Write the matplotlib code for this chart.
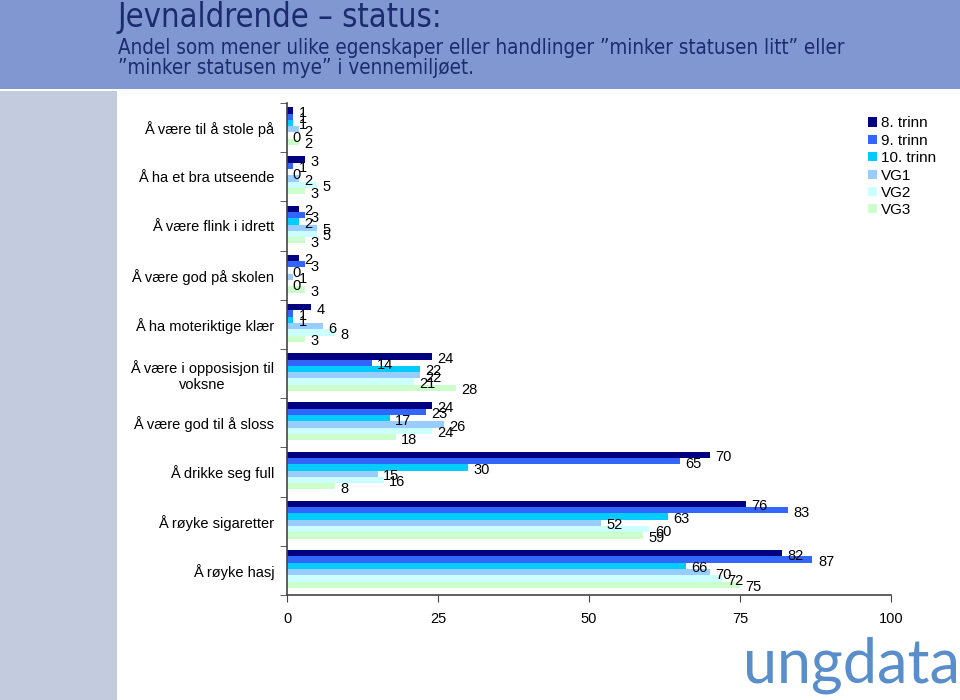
import matplotlib
matplotlib.use("Agg")
import matplotlib.pyplot as plt
from matplotlib.patches import Rectangle

# data
categories = ["Å være til å stole på", "Å ha et bra utseende", "Å være flink i idrett",
              "Å være god på skolen", "Å ha moteriktige klær",
              "Å være i opposisjon til\nvoksne", "Å være god til å sloss",
              "Å drikke seg full", "Å røyke sigaretter", "Å røyke hasj"]
series = ["8. trinn", "9. trinn", "10. trinn", "VG1", "VG2", "VG3"]
trinn8 = [1, 3, 2, 2, 4, 24, 24, 70, 76, 82]
trinn9 = [1, 1, 3, 3, 1, 14, 23, 65, 83, 87]
trinn10 = [1, 0, 2, 0, 1, 22, 17, 30, 63, 66]
vg1 = [2, 2, 5, 1, 6, 22, 26, 15, 52, 70]
vg2 = [0, 5, 5, 0, 8, 21, 24, 16, 60, 72]
vg3 = [2, 3, 3, 3, 3, 28, 18, 8, 59, 75]
xticks = [0, 25, 50, 75, 100]

values = [trinn8, trinn9, trinn10, vg1, vg2, vg3]
colors = ["#000080", "#3366FF", "#00CCFF", "#99CCFF", "#CCFFFF", "#CCFFCC"]

plt.rcParams['font.family'] = ['Liberation Sans', 'DejaVu Sans']

fig = plt.figure(figsize=(9.6, 7), dpi=100)
fig.patch.set_facecolor("white")

# header band and left strip
fig.add_artist(Rectangle((0, 1 - 89 / 700), 1, 89 / 700, transform=fig.transFigure,
                         facecolor="#8097D2", edgecolor="none", zorder=0))
fig.add_artist(Rectangle((0, 0), 117 / 960, 1 - 91 / 700, transform=fig.transFigure,
                         facecolor="#C3CCDE", edgecolor="none", zorder=0))

fig.text(118 / 960, 1 - 18 / 700, "Jevnaldrende – status:", fontsize=23.5, color="#1C2A6E",
         family="DejaVu Sans", stretch="condensed", va="center", ha="left")
fig.text(118 / 960, 1 - 58 / 700,
         "Andel som mener ulike egenskaper eller handlinger \u201dminker statusen litt\u201d eller\n"
         "\u201dminker statusen mye\u201d i vennemiljøet.",
         fontsize=14.8, color="#1C2A6E", family="DejaVu Sans", stretch="condensed",
         va="center", ha="left", linespacing=1.0)

ax = fig.add_axes([287 / 960, 1 - 595 / 700, 604 / 960, 492 / 700])
bh = 0.128
for j, (vals, col, name) in enumerate(zip(values, colors, series)):
    ys = [i + (j - 2.5) * bh - 0.03 for i in range(len(categories))]
    ax.barh(ys, vals, height=bh, color=col, label=name, edgecolor="none")
    for y, v in zip(ys, vals):
        ax.text(v + 0.9, y + 0.05, str(v), va="center", ha="left", fontsize=10.5)

ax.set_xlim(0, 100)
ax.set_ylim(len(categories) - 0.5, -0.5)
ax.set_xticks(xticks)
ax.set_xticklabels([str(t) for t in xticks], fontsize=10.5)
ax.set_yticks(range(len(categories)))
ax.set_yticklabels(categories, fontsize=10.5, ha="right", multialignment="center")
ax.tick_params(axis="y", which="major", length=0, pad=9)
ax.set_yticks([i - 0.5 for i in range(len(categories) + 1)], minor=True)
ax.tick_params(axis="y", which="minor", length=5, color="#444444")
ax.tick_params(axis="x", length=5, color="#444444", pad=7)
for s in ["top", "right"]:
    ax.spines[s].set_visible(False)
ax.spines["left"].set_color("#444444")
ax.spines["bottom"].set_color("#444444")
ax.spines["left"].set_linewidth(1.2)
ax.spines["bottom"].set_linewidth(1.2)

leg = ax.legend(loc="upper left", bbox_to_anchor=(0.952, 0.985), frameon=False,
                fontsize=11, handlelength=0.55, handleheight=0.55, handletextpad=0.3,
                labelspacing=0.22, borderaxespad=0)

fig.text(1.0, 0.05, "ungdata", fontsize=44, color="#5A8ECB", family=["Lato", "DejaVu Sans"],
         weight="normal", ha="right", va="center")

fig.savefig("out.png", dpi=100)
